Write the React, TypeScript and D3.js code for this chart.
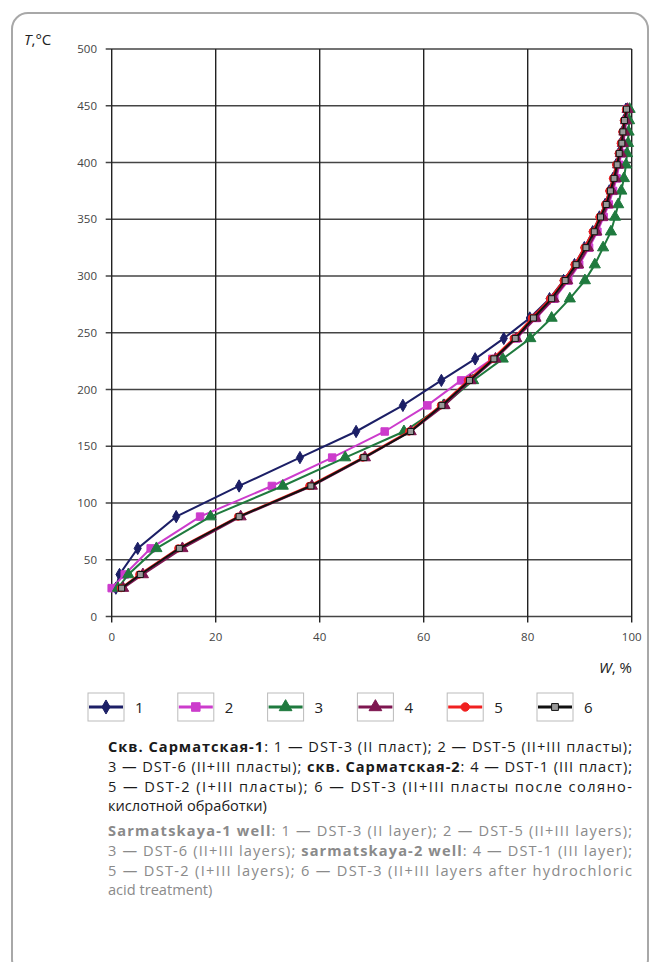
import * as d3 from "d3"

// temperature steps shared by all curves
const temps = [25, 37, 60, 88, 115, 140, 163, 186, 208, 227, 245, 263, 280, 296, 310, 325, 339, 352, 363, 375, 386, 398, 408, 417, 427, 437, 447]

const w1 = [0.8, 1.5, 5.0, 12.4, 24.5, 36.2, 47.0, 56.0, 63.4, 69.9, 75.4, 80.4, 84.2, 86.9, 89.0, 90.9, 92.5, 93.8, 94.9, 95.7, 96.4, 97.0, 97.5, 97.9, 98.2, 98.5, 98.9]
const w2 = [0.0, 2.5, 7.5, 17.0, 30.8, 42.4, 52.5, 60.7, 67.2, 73.2, 77.8, 81.6, 85.1, 87.8, 89.9, 91.8, 93.4, 94.6, 95.6, 96.4, 97.1, 97.6, 98.0, 98.4, 98.7, 98.9, 99.1]
const w3 = [1.2, 3.2, 8.6, 19.0, 32.9, 44.9, 56.2, 63.8, 69.5, 75.2, 80.5, 84.6, 88.1, 91.0, 92.9, 94.5, 96.0, 96.8, 97.4, 98.0, 98.5, 98.9, 99.1, 99.3, 99.4, 99.5, 99.6]
const w4 = [2.2, 6.0, 13.6, 24.8, 38.5, 48.7, 57.5, 64.0, 69.0, 73.8, 77.8, 81.5, 85.0, 87.6, 89.7, 91.6, 93.2, 94.4, 95.4, 96.2, 96.9, 97.4, 97.9, 98.3, 98.6, 98.9, 99.2]
const w5 = [1.8, 5.3, 12.8, 24.3, 38.0, 48.3, 57.2, 63.3, 68.5, 73.2, 77.3, 80.8, 84.3, 86.9, 89.0, 90.9, 92.5, 93.8, 94.9, 95.7, 96.4, 97.0, 97.5, 97.9, 98.2, 98.5, 98.9]
const w6 = [1.9, 5.5, 13.0, 24.5, 38.3, 48.5, 57.5, 63.5, 68.8, 73.5, 77.6, 81.1, 84.6, 87.2, 89.3, 91.2, 92.8, 94.0, 95.1, 95.9, 96.6, 97.2, 97.6, 98.1, 98.3, 98.6, 99.0]

const seriesNames = ["1", "2", "3", "4", "5", "6"]
const xTicks = [0, 20, 40, 60, 80, 100]
const yTicks = [0, 50, 100, 150, 200, 250, 300, 350, 400, 450, 500]

const series = [
  { name: seriesNames[0], w: w1, line: "#1c1f66", fill: "#1c1f66", stroke: "#1c1f66", sym: d3.symbolDiamond, size: 44 },
  { name: seriesNames[1], w: w2, line: "#cc3ccc", fill: "#cc3ccc", stroke: "#cc3ccc", sym: d3.symbolSquare, size: 56 },
  { name: seriesNames[2], w: w3, line: "#1f7a3e", fill: "#1f7a3e", stroke: "#1f7a3e", sym: d3.symbolTriangle, size: 54 },
  { name: seriesNames[3], w: w4, line: "#7e1650", fill: "#7e1650", stroke: "#7e1650", sym: d3.symbolTriangle, size: 54 },
  { name: seriesNames[4], w: w5, line: "#f02020", fill: "#f02020", stroke: "#f02020", sym: d3.symbolCircle, size: 42 },
  { name: seriesNames[5], w: w6, line: "#111111", fill: "#9a9a9a", stroke: "#111111", sym: d3.symbolSquare, size: 36 },
]

const ruLines = [
  [["Скв. Сарматская-1", true], [": 1 — DST-3 (II пласт); 2 — DST-5 (II+III пласты);", false]],
  [["3 — DST-6 (II+III пласты); ", false], ["скв. Сарматская-2", true], [": 4 — DST-1 (III пласт);", false]],
  [["5 — DST-2 (I+III пласты); 6 — DST-3 (II+III пласты после соляно-", false]],
  [["кислотной обработки)", false]],
] as [string, boolean][][]

const enLines = [
  [["Sarmatskaya-1 well", true], [": 1 — DST-3 (II layer); 2 — DST-5 (II+III layers);", false]],
  [["3 — DST-6 (II+III layers); ", false], ["sarmatskaya-2 well", true], [": 4 — DST-1 (III layer);", false]],
  [["5 — DST-2 (I+III layers); 6 — DST-3 (II+III layers after hydrochloric", false]],
  [["acid treatment)", false]],
] as [string, boolean][][]

const W = 658
const H = 962

export default function App() {
  const x = d3.scaleLinear().domain([0, 100]).range([111.7, 631.7])
  const y = d3.scaleLinear().domain([0, 500]).range([616.5, 49])

  const line = d3
    .line<[number, number]>()
    .x((d) => x(d[0]))
    .y((d) => y(d[1]))

  const font = "'Open Sans', 'Noto Sans', sans-serif"
  const capLeft = 108
  const capWidth = 524

  const renderCaption = (lines: [string, boolean][][], top: number, color: string) =>
    lines.map((parts, i) => (
      <text
        key={i}
        x={capLeft}
        y={top + i * 19.8}
        fontSize={14.6}
        fill={color}
        textLength={i < lines.length - 1 ? capWidth : undefined}
        lengthAdjust="spacing"
      >
        {parts.map(([t, b], j) => (
          <tspan key={j} fontWeight={b ? 700 : 400}>
            {t}
          </tspan>
        ))}
      </text>
    ))

  return (
    <svg
      width={W}
      height={H}
      style={{ position: "absolute", left: 0, top: 0, display: "block", background: "#fff" }}
      fontFamily={font}
    >
      <rect x={12} y={13} width={636} height={962} rx={16} fill="none" stroke="#a8a8a8" strokeWidth={2} />

      {/* grid */}
      <g>
        {yTicks.map((t) => (
          <line key={"h" + t} x1={x(0) - 6} x2={x(100)} y1={y(t)} y2={y(t)} stroke="#444" strokeWidth={1.4} />
        ))}
        {xTicks.map((t) => (
          <line key={"v" + t} x1={x(t)} x2={x(t)} y1={y(500)} y2={y(0) + 6} stroke="#222" strokeWidth={1.4} />
        ))}
      </g>

      {/* tick labels */}
      <g fontSize={11.5} fill="#444">
        {yTicks.map((t) => (
          <text key={t} x={97} y={y(t) + 4} textAnchor="end">
            {t}
          </text>
        ))}
        {xTicks.map((t) => (
          <text key={t} x={x(t)} y={641} textAnchor="middle">
            {t}
          </text>
        ))}
      </g>

      <text x={24} y={45} fontSize={15} fill="#222">
        <tspan fontStyle="italic">T</tspan>,°C
      </text>
      <text x={632} y={673} fontSize={15} fill="#222" textAnchor="end">
        <tspan fontStyle="italic">W</tspan>, %
      </text>

      {/* curves */}
      {series.map((s) => {
        const pts = s.w.map((v, i) => [v, temps[i]] as [number, number])
        const path = d3.symbol(s.sym, s.size)()
        return (
          <g key={s.name}>
            <path d={line(pts) ?? ""} fill="none" stroke={s.line} strokeWidth={2} />
            {pts.map((p, i) => (
              <path
                key={i}
                d={path ?? ""}
                transform={`translate(${x(p[0])},${y(p[1])})`}
                fill={s.fill}
                stroke={s.stroke}
                strokeWidth={1}
              />
            ))}
          </g>
        )
      })}

      {/* legend */}
      <g>
        {series.map((s, i) => {
          const lx = 88 + i * 89.8
          const path = d3.symbol(s.sym, s.size * 1.3)()
          return (
            <g key={s.name} transform={`translate(${lx},693)`}>
              <rect x={0} y={0} width={36} height={28} fill="#fff" stroke="#bbb" strokeWidth={1} />
              <line x1={1} x2={35} y1={14} y2={14} stroke={s.line} strokeWidth={3} />
              <path d={path ?? ""} transform="translate(18,14)" fill={s.fill} stroke={s.stroke} strokeWidth={1} />
              <text x={47} y={20} fontSize={15} fill="#222">
                {s.name}
              </text>
            </g>
          )
        })}
      </g>

      {/* caption */}
      <g>{renderCaption(ruLines, 752, "#1a1a1a")}</g>
      <g>{renderCaption(enLines, 836, "#8a8a8a")}</g>
    </svg>
  )
}
